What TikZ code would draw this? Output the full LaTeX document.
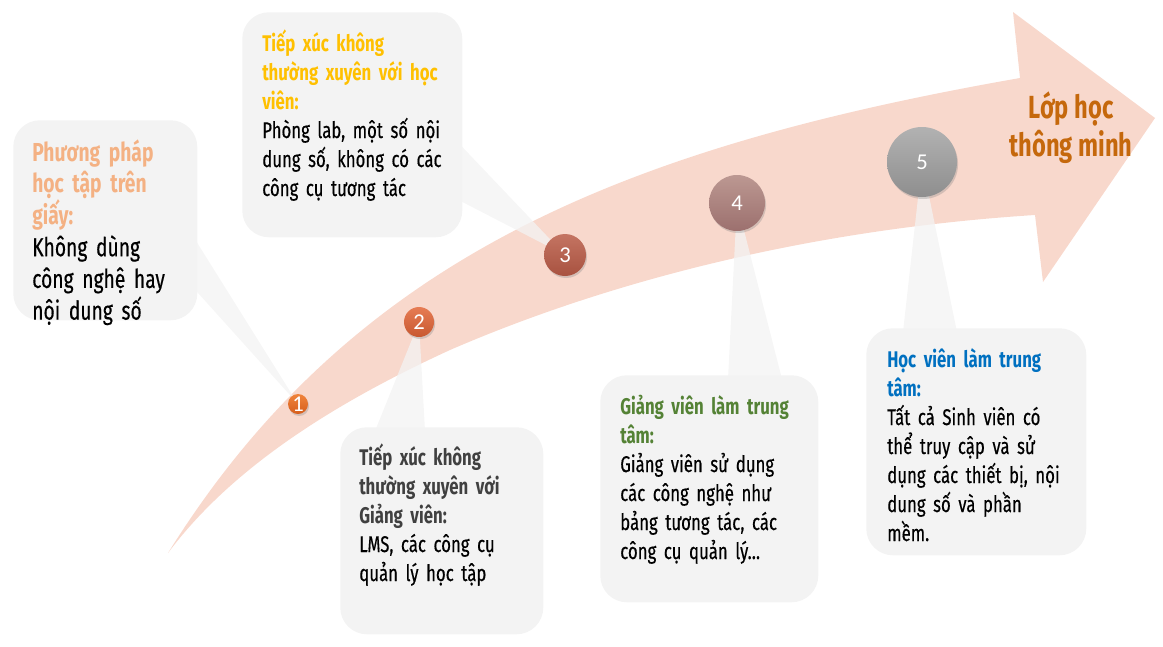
\documentclass[tikz,border=0pt]{standalone}
\usepackage{fontspec}
\setmainfont{Fira Sans}[FakeStretch=0.74, UprightFeatures={FakeBold=0.4}]
\newfontfamily\numfont{Carlito}
\usepackage{tikz}
\usetikzlibrary{calc,shadows}

\definecolor{arrowpink}{RGB}{248,216,204}
\definecolor{boxgray}{RGB}{243,243,243}
\definecolor{tpeach}{RGB}{244,177,131}
\definecolor{tgold}{RGB}{255,192,0}
\definecolor{tdark}{RGB}{64,64,64}
\definecolor{tgreen}{RGB}{84,130,53}
\definecolor{tblue}{RGB}{0,112,192}
\definecolor{tbrown}{RGB}{197,104,12}

\tikzset{
  box/.style={fill=boxgray, rounded corners=20pt, anchor=north west, inner sep=0pt},
  wedge/.style={fill=boxgray, fill opacity=0.75},
  dot/.style={circle, inner sep=0pt, text=white, font=\numfont\fontsize{17}{17}\selectfont,
    drop shadow={opacity=0.3, shadow xshift=0.8pt, shadow yshift=-1.5pt}},
  txt/.style={anchor=base west, inner sep=0pt, text width=250pt, align=left,
    font=\fontsize{17}{21.75}\selectfont},
}

\begin{document}
\begin{tikzpicture}[x=0.75pt,y=-0.75pt]
\useasboundingbox (0,0) rectangle (1163,646);

% big curved arrow
\fill[arrowpink] (168,553) .. controls (353,256) and (626,147) .. (1020,78)
  -- (1013,12) -- (1155,118) -- (1043,282) -- (1035,215)
  .. controls (800,230) and (600,285) .. (450,350)
  .. controls (330,405) and (230,470) .. (168,553) -- cycle;
\node[font=\bfseries\fontsize{24}{28.5}\selectfont, text=tbrown, align=center] (goal) at (1071,128) {Lớp học\\thông minh};

% steps
\coordinate (p1) at (298,404);
\coordinate (p2) at (419,322);
\coordinate (p3) at (565,255);
\coordinate (p4) at (737,203);
\coordinate (p5) at (922,162);

% boxes
\node[box, minimum width=138pt, minimum height=150pt] (box1) at (13,120) {};
\node[box, minimum width=165pt, minimum height=168.75pt] (box3) at (242,12) {};
\node[box, minimum width=152.25pt, minimum height=155.25pt] (box2) at (340,427) {};
\node[box, minimum width=163.5pt, minimum height=170.25pt] (box4) at (600,375) {};
\node[box, minimum width=165pt, minimum height=170.25pt] (box5) at (866,328) {};

% pointers
\fill[wedge] ($(box1.north east)+(-4,117)$) -- (p1) -- ($(box1.north east)+(-4,168)$) -- cycle;
\fill[wedge] ($(box3.north east)+(-4,131)$) -- (p3) -- ($(box3.north east)+(-4,188)$) -- cycle;
\fill[wedge] ($(box2.north west)+(35,4)$) -- (p2) -- ($(box2.north west)+(85,4)$) -- cycle;
\fill[wedge] ($(box4.north west)+(128,4)$) -- (p4) -- ($(box4.north west)+(182,4)$) -- cycle;
\fill[wedge] ($(box5.north west)+(37,4)$) -- (p5) -- ($(box5.north west)+(91,4)$) -- cycle;

% numbered dots
\node[dot, minimum size=15pt, top color={rgb,255:red,240;green,132;blue,60}, bottom color={rgb,255:red,214;green,94;blue,28}] (c1) at (p1) {1};
\node[dot, minimum size=22.5pt, top color={rgb,255:red,230;green,124;blue,84}, bottom color={rgb,255:red,200;green,88;blue,48}] (c2) at (p2) {2};
\node[dot, minimum size=31.5pt, top color={rgb,255:red,196;green,116;blue,98}, bottom color={rgb,255:red,168;green,82;blue,64}] (c3) at (p3) {3};
\node[dot, minimum size=42pt, top color={rgb,255:red,188;green,152;blue,146}, bottom color={rgb,255:red,156;green,112;blue,110}] (c4) at (p4) {4};
\node[dot, minimum size=52.5pt, top color={rgb,255:red,178;green,178;blue,178}, bottom color={rgb,255:red,142;green,142;blue,142}] (c5) at (p5) {5};

% texts
\node[txt, font=\fontsize{19.5}{23.8}\selectfont] (t1) at (32,161)
  {{\bfseries\color{tpeach}Phương pháp\\học tập trên\\giấy:}\\Không dùng\\công nghệ hay\\nội dung số};
\node[txt] (t3) at (262,51)
  {{\bfseries\color{tgold}Tiếp xúc không\\thường xuyên với học\\viên:}\\Phòng lab, một số nội\\dung số, không có các\\công cụ tương tác};
\node[txt] (t2) at (359,465)
  {{\bfseries\color{tdark}Tiếp xúc không\\thường xuyên với\\Giảng viên:}\\LMS, các công cụ\\quản lý học tập};
\node[txt] (t4) at (620,414)
  {{\bfseries\color{tgreen}Giảng viên làm trung\\tâm:}\\Giảng viên sử dụng\\các công nghệ như\\bảng tương tác, các\\công cụ quản lý…};
\node[txt] (t5) at (887,367)
  {{\bfseries\color{tblue}Học viên làm trung\\tâm:}\\Tất cả Sinh viên có\\thể truy cập và sử\\dụng các thiết bị, nội\\dung số và phần\\mềm.};
\end{tikzpicture}
\end{document}
